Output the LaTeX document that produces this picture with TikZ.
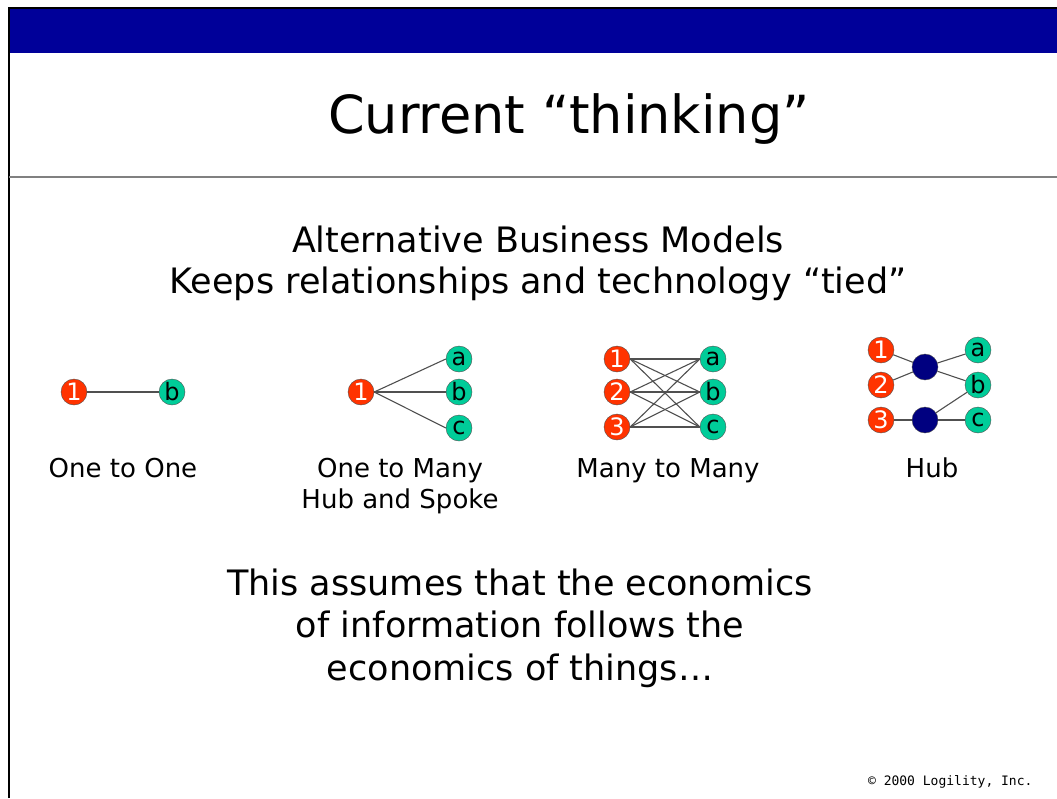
\documentclass[tikz,border=0pt]{standalone}
\usepackage{fontspec}
\setmainfont{DejaVu Sans}
\setmonofont{DejaVu Sans Mono}
\usepackage{tikz}

\definecolor{barblue}{RGB}{0,0,153}
\definecolor{onered}{RGB}{255,51,0}
\definecolor{tealgreen}{RGB}{0,204,153}
\definecolor{hubnavy}{RGB}{0,0,128}
\definecolor{edgegray}{RGB}{80,80,80}

\begin{document}
\begin{tikzpicture}[x=1pt, y=-1pt, % pixel grid, y downwards
    every edge/.style = {draw = edgegray, line width = 1.1pt}
    ]

    \tikzstyle{source}=[
        shape = circle,
        draw = edgegray,
        fill = onered,
        text = white,
        minimum size = 26pt,
        inner sep = 0pt,
        font = \fontsize{24}{24}\selectfont
    ]
    \tikzstyle{target}=[source, fill = tealgreen, text = black]
    \tikzstyle{hub}=[source, fill = hubnavy]
    \tikzstyle{caption}=[anchor = base, font = \fontsize{26}{32}\selectfont]
    \tikzstyle{body}=[anchor = base, font = \fontsize{35}{42}\selectfont]

\useasboundingbox (0,0) rectangle (1057,798);
% frame
\fill[barblue] (9,8) rectangle (1057,53);
\draw[black, line width = 2.5pt] (9,798) -- (9,8) -- (1057,8);
\draw[gray, line width = 2pt] (9,177) -- (1057,177);

\node[anchor = base, font = \fontsize{52.5}{52.5}\selectfont] (title) at (569,133) {Current “thinking”};
\node[body] (sub1) at (538,252) {Alternative Business Models};
\node[body] (sub2) at (538,293) {Keeps relationships and technology “tied”};

% one to one
\node[source] (O1) at (74,392) {1};
\node[target] (Ob) at (172,392) {b};
\node[caption] (Ocap) at (123,477) {One to One};

% one to many
\node[source] (S1) at (361,392) {1};
\node[target] (Sa) at (459,359) {a};
\node[target] (Sb) at (459,392) {b};
\node[target] (Sc) at (459,428) {c};
\node[caption] (Scap1) at (400,477) {One to Many};
\node[caption] (Scap2) at (400,508) {Hub and Spoke};

% many to many
\node[source] (M1) at (617,359) {1};
\node[source] (M2) at (617,392) {2};
\node[source] (M3) at (617,427) {3};
\node[target] (Ma) at (713,359) {a};
\node[target] (Mb) at (713,392) {b};
\node[target] (Mc) at (713,427) {c};
\node[caption] (Mcap) at (668,477) {Many to Many};

% hub
\node[source] (H1) at (881,350) {1};
\node[source] (H2) at (881,385) {2};
\node[source] (H3) at (881,420) {3};
\node[hub] (HubA) at (925,367) {};
\node[hub] (HubB) at (925,420) {};
\node[target] (Ha) at (978,350) {a};
\node[target] (Hb) at (978,385) {b};
\node[target] (Hc) at (978,420) {c};
\node[caption] (Hcap) at (932,477) {Hub};

\node[body] (foot1) at (520,595) {This assumes that the economics};
\node[body] (foot2) at (520,637) {of information follows the};
\node[body] (foot3) at (520,680) {economics of things…};

\node[anchor = base east, font = \ttfamily\fontsize{13}{13}\selectfont] (copy) at (1036,785) {© 2000 Logility, Inc.};

 \path (O1) edge (Ob);
 \path (S1.east) edge (Sa.west);
 \path (S1.east) edge (Sb.west);
 \path (S1.east) edge (Sc.west);
 \foreach \l in {M1,M2,M3}
   \foreach \r in {Ma,Mb,Mc}
     \path (\l.east) edge (\r.west);
 \path (H1) edge (HubA);
 \path (H2) edge (HubA);
 \path (HubA) edge (Ha);
 \path (HubA) edge (Hb);
 \path (H3) edge (HubB);
 \path (HubB) edge (Hb);
 \path (HubB) edge (Hc);
\end{tikzpicture}
\end{document}
